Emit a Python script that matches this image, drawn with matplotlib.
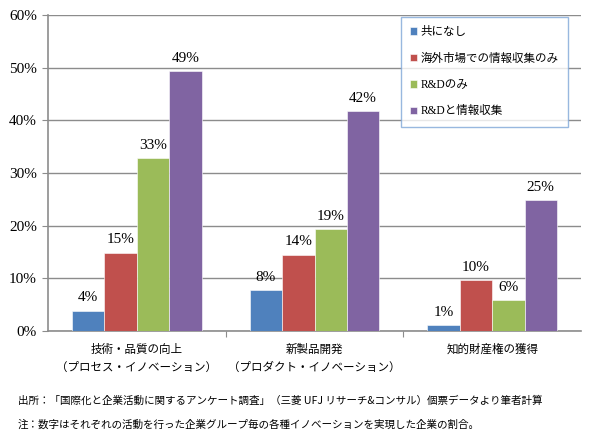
import matplotlib
matplotlib.use("Agg")
import matplotlib.pyplot as plt
import numpy as np

categories = ["技術・品質の向上\n（プロセス・イノベーション）",
              "新製品開発\n（プロダクト・イノベーション）",
              "知的財産権の獲得"]
series_names = ["共になし", "海外市場での情報収集のみ", "R&Dのみ", "R&Dと情報収集"]
none_vals = [3.85, 7.7, 1.1]
market_vals = [14.9, 14.5, 9.7]
rd_vals = [32.8, 19.4, 5.9]
rd_info_vals = [49.4, 41.8, 24.9]
series_vals = [none_vals, market_vals, rd_vals, rd_info_vals]
colors = ["#4F81BD", "#C0504D", "#9BBB59", "#8064A2"]
yticks = [0, 10, 20, 30, 40, 50, 60]

plt.rcParams['font.family'] = ['Noto Sans CJK JP', 'DejaVu Sans']
serif = ['Liberation Serif', 'Noto Sans CJK JP']

fig = plt.figure(figsize=(5.9, 4.4), dpi=100)
ax = fig.add_axes([48/590, 1 - 331/440, (581-48)/590, (331-15)/440])

x = np.arange(len(categories))
w = 0.182
for i, (vals, c) in enumerate(zip(series_vals, colors)):
    pos = x + (i - 1.5) * w
    ax.bar(pos, vals, width=w, color=c, label=series_names[i], zorder=3,
           edgecolor='white', linewidth=0.4)
    for xp, v in zip(pos, vals):
        ax.text(xp, v + 1.2, f"{round(v):.0f}%", ha='center', va='bottom',
                family=serif, fontsize=11)

ax.set_xlim(-0.5, 2.5)
ax.set_ylim(0, 60)
ax.set_yticks(yticks)
ax.set_yticklabels([f"{t}%" for t in yticks], family=serif, fontsize=11)
ax.yaxis.grid(True, color='#8C8C8C', linewidth=1.0, zorder=0)
ax.set_axisbelow(True)
ax.set_xticks([0.5, 1.5], minor=False)
ax.set_xticklabels([])
ax.tick_params(axis='x', length=4, color='#8C8C8C', direction='out')
ax.tick_params(axis='y', length=4, color='#8C8C8C', pad=4)
for s in ['top', 'right']:
    ax.spines[s].set_visible(False)
for s in ['left', 'bottom']:
    ax.spines[s].set_color('#8C8C8C')
    ax.spines[s].set_linewidth(1.2)

for xi, lab in zip(x, categories):
    ax.text(xi, -2.3, lab, ha='center', va='top', fontsize=8.3,
            transform=ax.transData, linespacing=1.5)

leg = ax.legend(loc='upper left', bbox_to_anchor=((401-48)/533, (331-17)/316),
                prop={'family': serif, 'size': 8.3},
                frameon=True, fancybox=False, handlelength=0.6, handleheight=0.6,
                handletextpad=0.3, labelspacing=1.25, borderpad=0.8,
                borderaxespad=0)
leg.get_frame().set_edgecolor('#7FA6D8')
leg.get_frame().set_linewidth(1.0)
leg.get_frame().set_facecolor('white')
leg.set_zorder(5)

fig.text(18/590, 1 - 401/440,
         "出所：「国際化と企業活動に関するアンケート調査」（三菱 UFJ リサーチ&コンサル）個票データより筆者計算",
         fontsize=7.6, va='center', ha='left')
fig.text(18/590, 1 - 425/440,
         "注：数字はそれぞれの活動を行った企業グループ毎の各種イノベーションを実現した企業の割合。",
         fontsize=7.6, va='center', ha='left')

fig.savefig("out.png", dpi=100)
